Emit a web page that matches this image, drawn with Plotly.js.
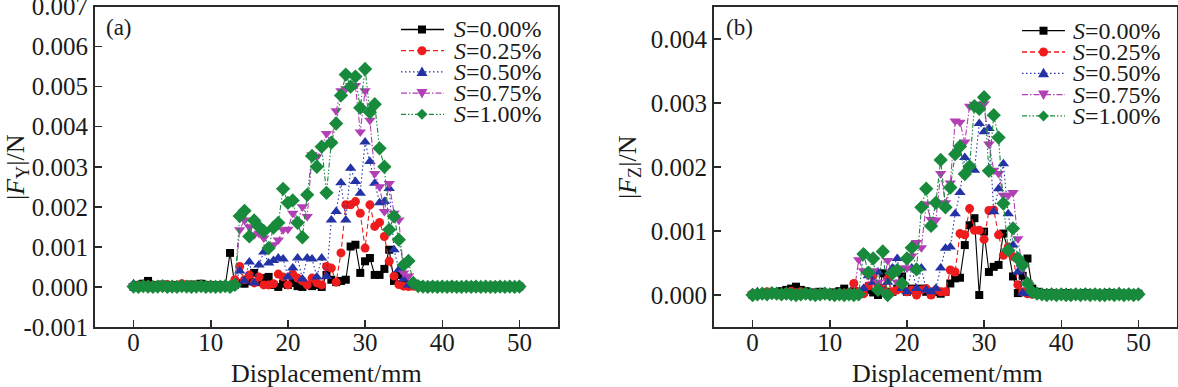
<!DOCTYPE html>
<html>
<head>
<meta charset="utf-8">
<script src="https://cdn.plot.ly/plotly-3.0.1.min.js"></script>
<style>
html,body{margin:0;padding:0;background:#fff;}
#chart{width:1178px;height:387px;}
</style>
</head>
<body>
<div id="chart"></div>
<script>
// Displacement (mm)
const DISP = [0,0.625,1.25,1.875,2.5,3.125,3.75,4.375,5,5.625,6.25,6.875,7.5,8.125,8.75,9.375,10,10.625,11.25,11.875,12.5,13.125,13.75,14.375,15,15.625,16.25,16.875,17.5,18.125,18.75,19.375,20,20.625,21.25,21.875,22.5,23.125,23.75,24.375,25,25.625,26.25,26.875,27.5,28.125,28.75,29.375,30,30.625,31.25,31.875,32.5,33.125,33.75,34.375,35,35.625,36.25,36.875,37.5,38.125,38.75,39.375,40,40.625,41.25,41.875,42.5,43.125,43.75,44.375,45,45.625,46.25,46.875,47.5,48.125,48.75,49.375,50];

const SERIES_NAMES = ["S=0.00%","S=0.25%","S=0.50%","S=0.75%","S=1.00%"];
const LEGEND_LABELS = ["<i>S</i>=0.00%","<i>S</i>=0.25%","<i>S</i>=0.50%","<i>S</i>=0.75%","<i>S</i>=1.00%"];

// Panel (a): |F_Y| (N)
const FY_S000 = [0.00000,0.00005,0.00008,0.00015,0.00005,0.00003,0.00006,0.00002,0.00004,0.00005,0.00003,0.00002,0.00006,0.00004,0.00008,0.00003,0.00005,0.00002,0.00004,0.00003,
0.00085,0.00005,0.00010,0.00008,0.00015,0.00035,0.00012,0.00022,0.00025,0.00005,0.00000,0.00008,0.00005,0.00010,0.00002,0.00000,0.00005,0.00002,0.00005,0.00000,
0.00030,0.00018,0.00012,0.00015,0.00018,0.00101,0.00105,0.00035,0.00064,0.00072,0.00030,0.00030,0.00045,0.00093,0.00015,0.00030,0.00005,0.00003,0.00002,0.00004,
0.00001,0.00002,0.00003,0.00001,0.00002,0.00001,0.00003,0.00002,0.00001,0.00002,0.00003,0.00001,0.00002,0.00001,0.00002,0.00003,0.00001,0.00002,0.00001,0.00002,0.00001];
const FY_S025 = [0.00002,0.00004,0.00003,0.00005,0.00002,0.00004,0.00003,0.00006,0.00004,0.00003,0.00008,0.00005,0.00004,0.00003,0.00005,0.00002,0.00004,0.00003,0.00002,0.00004,
0.00002,0.00018,0.00051,0.00018,0.00030,0.00010,0.00025,0.00005,0.00005,0.00008,0.00032,0.00025,0.00005,0.00032,0.00022,0.00015,0.00005,0.00022,0.00010,0.00005,
0.00051,0.00047,0.00012,0.00085,0.00205,0.00205,0.00213,0.00184,0.00097,0.00205,0.00151,0.00161,0.00126,0.00064,0.00027,0.00006,0.00002,0.00001,0.00002,0.00001,
0.00002,0.00001,0.00000,0.00002,0.00001,0.00002,0.00000,0.00001,0.00002,0.00001,0.00000,0.00002,0.00001,0.00002,0.00001,0.00000,0.00002,0.00001,0.00000,0.00001,0.00002];
const FY_S050 = [0.00008,0.00004,0.00003,0.00005,0.00002,0.00004,0.00003,0.00002,0.00004,0.00003,0.00002,0.00004,0.00003,0.00002,0.00004,0.00003,0.00002,0.00003,0.00002,0.00004,
0.00002,0.00005,0.00040,0.00015,0.00062,0.00010,0.00055,0.00087,0.00060,0.00066,0.00072,0.00070,0.00025,0.00047,0.00072,0.00020,0.00072,0.00070,0.00025,0.00072,
0.00026,0.00167,0.00188,0.00260,0.00167,0.00296,0.00263,0.00234,0.00362,0.00313,0.00259,0.00210,0.00213,0.00246,0.00093,0.00043,0.00020,0.00005,0.00003,0.00002,
0.00003,0.00002,0.00004,0.00002,0.00003,0.00002,0.00004,0.00003,0.00002,0.00003,0.00002,0.00004,0.00002,0.00003,0.00002,0.00003,0.00004,0.00002,0.00003,0.00002,0.00003];
const FY_S075 = [0.00003,0.00002,0.00001,0.00003,0.00002,0.00001,0.00002,0.00003,0.00001,0.00002,0.00001,0.00003,0.00002,0.00001,0.00002,0.00001,0.00003,0.00002,0.00001,0.00002,
0.00001,0.00005,0.00143,0.00167,0.00150,0.00130,0.00134,0.00122,0.00100,0.00105,0.00117,0.00143,0.00144,0.00184,0.00160,0.00200,0.00176,0.00330,0.00325,0.00345,
0.00383,0.00360,0.00440,0.00490,0.00495,0.00503,0.00503,0.00387,0.00490,0.00416,0.00283,0.00250,0.00188,0.00258,0.00184,0.00167,0.00035,0.00027,0.00005,0.00002,
0.00001,0.00002,0.00001,0.00000,0.00001,0.00002,0.00001,0.00000,0.00001,0.00002,0.00001,0.00000,0.00001,0.00002,0.00001,0.00000,0.00001,0.00001,0.00002,0.00000,0.00001];
const FY_S100 = [0.00001,0.00000,0.00002,0.00001,0.00000,0.00001,0.00002,0.00000,0.00001,0.00000,0.00002,0.00001,0.00000,0.00001,0.00002,0.00000,0.00001,0.00000,0.00001,0.00002,
0.00000,0.00005,0.00177,0.00190,0.00126,0.00166,0.00150,0.00139,0.00097,0.00148,0.00160,0.00245,0.00210,0.00216,0.00160,0.00124,0.00230,0.00327,0.00300,0.00350,
0.00235,0.00360,0.00408,0.00478,0.00530,0.00500,0.00525,0.00447,0.00544,0.00436,0.00456,0.00346,0.00300,0.00143,0.00176,0.00118,0.00055,0.00065,0.00010,0.00002,
0.00001,0.00000,0.00001,0.00000,0.00001,0.00000,0.00001,0.00000,0.00000,0.00001,0.00000,0.00001,0.00000,0.00001,0.00000,0.00000,0.00001,0.00000,0.00001,0.00000,0.00001];

// Panel (b): |F_Z| (N)
const FZ_S000 = [0.00000,0.00002,0.00003,0.00002,0.00004,0.00003,0.00006,0.00008,0.00010,0.00013,0.00008,0.00006,0.00004,0.00003,0.00005,0.00003,0.00002,0.00004,0.00006,0.00010,
0.00004,0.00006,0.00003,0.00005,0.00008,0.00004,0.00000,0.00034,0.00005,0.00005,0.00010,0.00029,0.00005,0.00010,0.00005,0.00010,0.00005,0.00002,0.00005,0.00002,
0.00005,0.00018,0.00026,0.00027,0.00078,0.00109,0.00120,0.00000,0.00099,0.00036,0.00044,0.00047,0.00096,0.00070,0.00029,0.00003,0.00030,0.00057,0.00010,0.00005,
0.00003,0.00002,0.00003,0.00001,0.00002,0.00003,0.00002,0.00001,0.00002,0.00003,0.00001,0.00002,0.00001,0.00002,0.00003,0.00001,0.00002,0.00001,0.00002,0.00001,0.00002];
const FZ_S025 = [0.00002,0.00001,0.00003,0.00005,0.00002,0.00003,0.00001,0.00004,0.00006,0.00003,0.00005,0.00002,0.00001,0.00003,0.00002,0.00004,0.00002,0.00001,0.00003,0.00002,
0.00004,0.00018,0.00005,0.00002,0.00014,0.00030,0.00015,0.00010,0.00025,0.00005,0.00008,0.00010,0.00005,0.00008,0.00000,0.00008,0.00010,0.00000,0.00008,0.00005,
0.00005,0.00039,0.00036,0.00096,0.00094,0.00135,0.00101,0.00101,0.00087,0.00132,0.00133,0.00094,0.00062,0.00075,0.00060,0.00016,0.00005,0.00002,0.00001,0.00002,
0.00001,0.00000,0.00001,0.00002,0.00000,0.00001,0.00000,0.00002,0.00001,0.00000,0.00001,0.00002,0.00000,0.00001,0.00000,0.00001,0.00002,0.00000,0.00001,0.00000,0.00001];
const FZ_S050 = [0.00003,0.00005,0.00002,0.00003,0.00004,0.00002,0.00003,0.00002,0.00004,0.00003,0.00002,0.00003,0.00002,0.00004,0.00002,0.00003,0.00002,0.00003,0.00004,0.00002,
0.00003,0.00002,0.00004,0.00010,0.00030,0.00020,0.00036,0.00005,0.00020,0.00042,0.00057,0.00010,0.00005,0.00042,0.00010,0.00042,0.00008,0.00005,0.00010,0.00042,
0.00073,0.00075,0.00127,0.00160,0.00215,0.00198,0.00195,0.00268,0.00255,0.00260,0.00130,0.00166,0.00205,0.00127,0.00078,0.00036,0.00003,0.00002,0.00003,0.00004,
0.00002,0.00003,0.00004,0.00002,0.00003,0.00004,0.00002,0.00003,0.00002,0.00004,0.00003,0.00002,0.00003,0.00004,0.00002,0.00003,0.00005,0.00002,0.00003,0.00002,0.00003];
const FZ_S075 = [0.00001,0.00000,0.00002,0.00001,0.00000,0.00001,0.00000,0.00002,0.00001,0.00000,0.00001,0.00002,0.00000,0.00001,0.00000,0.00001,0.00002,0.00000,0.00001,0.00000,
0.00001,0.00002,0.00055,0.00038,0.00030,0.00038,0.00020,0.00005,0.00054,0.00035,0.00020,0.00042,0.00042,0.00061,0.00082,0.00074,0.00142,0.00118,0.00117,0.00190,
0.00144,0.00175,0.00272,0.00270,0.00239,0.00295,0.00298,0.00296,0.00299,0.00236,0.00195,0.00190,0.00156,0.00156,0.00160,0.00088,0.00042,0.00019,0.00003,0.00001,
0.00000,0.00001,0.00000,0.00001,0.00002,0.00000,0.00001,0.00000,0.00001,0.00000,0.00001,0.00002,0.00000,0.00001,0.00000,0.00001,0.00000,0.00001,0.00002,0.00000,0.00001];
const FZ_S100 = [0.00000,0.00001,0.00002,0.00001,0.00003,0.00002,0.00001,0.00002,0.00001,0.00000,0.00001,0.00002,0.00001,0.00000,0.00001,0.00002,0.00001,0.00000,0.00001,0.00000,
0.00001,0.00000,0.00001,0.00064,0.00035,0.00057,0.00008,0.00068,0.00000,0.00034,0.00039,0.00018,0.00057,0.00074,0.00040,0.00137,0.00166,0.00108,0.00144,0.00211,
0.00137,0.00168,0.00220,0.00232,0.00189,0.00201,0.00295,0.00291,0.00309,0.00194,0.00281,0.00246,0.00143,0.00070,0.00104,0.00057,0.00047,0.00018,0.00005,0.00002,
0.00001,0.00000,0.00001,0.00000,0.00001,0.00000,0.00000,0.00001,0.00000,0.00001,0.00000,0.00001,0.00000,0.00000,0.00001,0.00000,0.00001,0.00000,0.00001,0.00000,0.00001];

const X_TICKS = [0,10,20,30,40,50];
const Y1_TICKS = [-0.001,0,0.001,0.002,0.003,0.004,0.005,0.006,0.007];
const Y1_TICKTEXT = ["-0.001","0.000","0.001","0.002","0.003","0.004","0.005","0.006","0.007"];
const Y2_TICKS = [0,0.001,0.002,0.003,0.004];
const Y2_TICKTEXT = ["0.000","0.001","0.002","0.003","0.004"];

// styles
const COLORS = ["#000000","#ee1c1c","#2333a6","#b23fb4","#188a3c"];
const DASHES = ["solid","5px,3px","1.5px,2.5px","6px,2px,1.5px,2px","5px,2px,1.5px,2px,1.5px,2px"];
const SYMBOLS = ["square","circle","triangle-up","triangle-down","diamond"];
const MSIZES = [8,9,10,10,11];

const W = 1178, H = 387;
const px = x => x / W;
const py = y => 1 - y / H;
const FONT = "Liberation Serif, Times New Roman, serif";
const TXT = "#1a1a1a";

const FY = [FY_S000, FY_S025, FY_S050, FY_S075, FY_S100];
const FZ = [FZ_S000, FZ_S025, FZ_S050, FZ_S075, FZ_S100];

const traces = [];
function addPanel(data, xa, ya) {
  data.forEach((ys, i) => {
    traces.push({
      type: "scatter", mode: "lines+markers",
      x: DISP, y: ys, xaxis: xa, yaxis: ya,
      name: SERIES_NAMES[i], showlegend: false,
      line: {color: COLORS[i], width: 1.1, dash: DASHES[i]},
      marker: {color: COLORS[i], symbol: SYMBOLS[i], size: MSIZES[i], line: {width: 0}}
    });
  });
}
addPanel(FY, "x", "y");
addPanel(FZ, "x2", "y2");
// placeholders (no visible point) so the label-only x axes get drawn
traces.push({type: "scatter", mode: "markers", x: [X_TICKS[0]], y: [null], xaxis: "x3", yaxis: "y",
  showlegend: false, hoverinfo: "skip", marker: {opacity: 0}});
traces.push({type: "scatter", mode: "markers", x: [X_TICKS[0]], y: [null], xaxis: "x4", yaxis: "y2",
  showlegend: false, hoverinfo: "skip", marker: {opacity: 0}});

const axisCommon = {
  showline: true, mirror: true, linecolor: "#2a2a2a", linewidth: 2,
  ticks: "inside", ticklen: 7, tickwidth: 1.5, tickcolor: "#2a2a2a",
  showgrid: false, zeroline: false, ticklabeloverflow: "allow",
  tickfont: {family: FONT, size: 25, color: TXT}
};
const labelAxis = {
  showline: false, ticks: "", showgrid: false, zeroline: false,
  anchor: "free", position: py(325), range: [-5, 55], tickvals: X_TICKS,
  ticklabeloverflow: "allow",
  tickfont: {family: FONT, size: 25, color: TXT}
};

const shapes = [];
const annotations = [];

function legend(lineX0, lineX1, markX, textX, rowYs) {
  rowYs.forEach((ry, i) => {
    shapes.push({type: "line", xref: "paper", yref: "paper",
      x0: px(lineX0), x1: px(lineX1), y0: py(ry), y1: py(ry),
      line: {color: COLORS[i], width: 1.3, dash: DASHES[i]}});
    const c = COLORS[i];
    let path = null;
    const pts = (arr) => "M" + arr.map(p => px(markX + p[0]) + "," + py(ry + p[1])).join(" L") + " Z";
    if (SYMBOLS[i] === "square") path = pts([[-4,-4],[4,-4],[4,4],[-4,4]]);
    if (SYMBOLS[i] === "triangle-up") path = pts([[-5.5,4],[5.5,4],[0,-5.5]]);
    if (SYMBOLS[i] === "triangle-down") path = pts([[-5.5,-4],[5.5,-4],[0,5.5]]);
    if (SYMBOLS[i] === "diamond") path = pts([[0,-5.5],[5.5,0],[0,5.5],[-5.5,0]]);
    if (SYMBOLS[i] === "circle") {
      shapes.push({type: "circle", xref: "paper", yref: "paper",
        x0: px(markX - 4.5), x1: px(markX + 4.5), y0: py(ry + 4.5), y1: py(ry - 4.5),
        fillcolor: c, line: {width: 0}});
    } else {
      shapes.push({type: "path", xref: "paper", yref: "paper", path: path,
        fillcolor: c, line: {width: 0}});
    }
    annotations.push({xref: "paper", yref: "paper", x: px(textX), y: py(ry),
      xanchor: "left", yanchor: "middle", showarrow: false, borderpad: 0,
      text: LEGEND_LABELS[i], font: {family: FONT, size: 24, color: TXT}});
  });
}
legend(401, 444, 422, 453, [29.5, 50.7, 71.9, 93.1, 114.3]);
legend(1022, 1065, 1043.5, 1072, [30.7, 52.0, 73.3, 94.6, 115.9]);

// panel labels & axis titles
annotations.push({xref:"paper", yref:"paper", x:px(104), y:py(28), xanchor:"left", yanchor:"middle",
  showarrow:false, text:"(a)", font:{family:FONT, size:23, color:TXT}});
annotations.push({xref:"paper", yref:"paper", x:px(724), y:py(28), xanchor:"left", yanchor:"middle",
  showarrow:false, text:"(b)", font:{family:FONT, size:23, color:TXT}});
annotations.push({xref:"paper", yref:"paper", x:px(326), y:py(373), xanchor:"center", yanchor:"middle",
  showarrow:false, text:"Displacement/mm", font:{family:FONT, size:26, color:TXT}});
annotations.push({xref:"paper", yref:"paper", x:px(947), y:py(373), xanchor:"center", yanchor:"middle",
  showarrow:false, text:"Displacement/mm", font:{family:FONT, size:26, color:TXT}});
annotations.push({xref:"paper", yref:"paper", x:px(17), y:py(167), xanchor:"center", yanchor:"middle",
  showarrow:false, textangle:-90, text:"|<i>F</i><sub>Y</sub>|/N", font:{family:FONT, size:26, color:TXT}});
annotations.push({xref:"paper", yref:"paper", x:px(629), y:py(167), xanchor:"center", yanchor:"middle",
  showarrow:false, textangle:-90, text:"|<i>F</i><sub>Z</sub>|/N", font:{family:FONT, size:26, color:TXT}});

const layout = {
  width: W, height: H,
  margin: {l: 0, r: 0, t: 0, b: 0, pad: 0},
  paper_bgcolor: "#ffffff", plot_bgcolor: "#ffffff",
  showlegend: false,
  xaxis: Object.assign({}, axisCommon, {domain: [px(95), px(558)], range: [-5, 55],
    tickvals: X_TICKS, anchor: "y", showticklabels: false}),
  yaxis: Object.assign({}, axisCommon, {domain: [py(327), py(6.5)], range: [-0.001, 0.007],
    tickvals: Y1_TICKS, ticktext: Y1_TICKTEXT, anchor: "x"}),
  xaxis2: Object.assign({}, axisCommon, {domain: [px(714), px(1177)], range: [-5, 55],
    tickvals: X_TICKS, anchor: "y2", showticklabels: false}),
  yaxis2: Object.assign({}, axisCommon, {domain: [py(327), py(7)], range: [-0.0005, 0.0045],
    tickvals: Y2_TICKS, ticktext: Y2_TICKTEXT, anchor: "x2"}),
  xaxis3: Object.assign({}, labelAxis, {overlaying: "x", domain: [px(95), px(558)]}),
  xaxis4: Object.assign({}, labelAxis, {overlaying: "x2", domain: [px(714), px(1177)]}),
  shapes: shapes,
  annotations: annotations
};

Plotly.newPlot("chart", traces, layout, {staticPlot: true, displayModeBar: false});
</script>
</body>
</html>
